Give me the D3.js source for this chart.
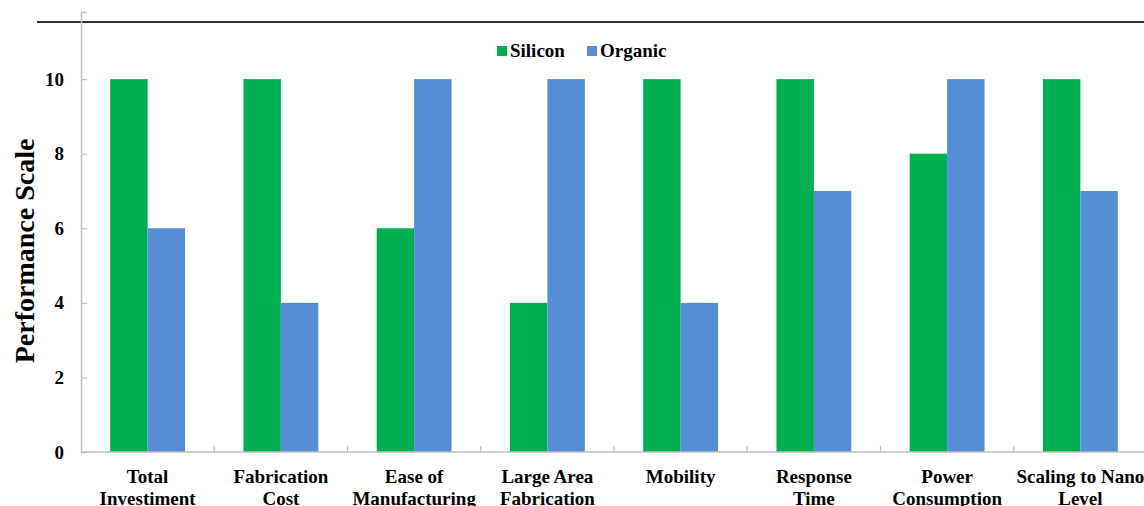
<!DOCTYPE html>
<html>
<head>
<meta charset="utf-8">
<script src="https://cdn.jsdelivr.net/npm/d3@7"></script>
<style>
  html, body { margin: 0; padding: 0; background: #fff; }
  svg { display: block; }
</style>
</head>
<body>
<svg id="chart" width="1144" height="506"></svg>
<script>
// Performance comparison of silicon vs organic electronics
const categories = [
  ["Total", "Investiment"],
  ["Fabrication", "Cost"],
  ["Ease of", "Manufacturing"],
  ["Large Area", "Fabrication"],
  ["Mobility"],
  ["Response", "Time"],
  ["Power", "Consumption"],
  ["Scaling to Nano", "Level"]
];
const seriesNames = ["Silicon", "Organic"];
const silicon = [10, 10, 6, 4, 10, 10, 8, 10];
const organic = [6, 4, 10, 10, 4, 7, 10, 7];
const yTicks = [0, 2, 4, 6, 8, 10];
const colors = ["#00B050", "#558ED5"];

const FONT = "'Liberation Serif', 'Times New Roman', Times, 'DejaVu Serif', serif";

const svg = d3.select("#chart")
  .attr("font-family", FONT)
  .attr("font-weight", "bold");
const plotLeft = 81, plotRight = 1147, plotBottom = 452, plotTop = 12;

const keys = categories.map((c, i) => i);
const x = d3.scaleBand().domain(keys).range([plotLeft, plotRight]).paddingInner(0).paddingOuter(0);
const xInner = d3.scaleBand().domain(seriesNames).range([0, x.bandwidth()]).paddingInner(0).paddingOuter(0.78);
const y = d3.scaleLinear().domain([0, 11.8]).range([plotBottom, plotTop]);

// top rule
svg.append("line")
  .attr("x1", 37).attr("x2", 1144).attr("y1", 22).attr("y2", 22)
  .attr("stroke", "#333").attr("stroke-width", 2.2);

// bars
const data = keys.map(i => ({ i, values: [silicon[i], organic[i]] }));
const groups = svg.append("g").selectAll("g").data(data).join("g")
  .attr("transform", d => `translate(${x(d.i)},0)`);
groups.selectAll("rect")
  .data(d => d.values.map((v, s) => ({ v, s })))
  .join("rect")
  .attr("x", d => xInner(seriesNames[d.s]))
  .attr("width", xInner.bandwidth())
  .attr("y", d => y(d.v))
  .attr("height", d => y(0) - y(d.v))
  .attr("fill", d => colors[d.s]);

// y axis (ticks drawn inside the plot)
const yAxis = d3.axisLeft(y).tickValues(yTicks).tickSize(-6).tickPadding(17).tickFormat(d3.format("d"));
const gy = svg.append("g").attr("transform", `translate(${plotLeft},0)`).call(yAxis)
  .attr("font-family", FONT).attr("font-size", 19);
gy.select(".domain").attr("stroke", "#bfbfbf").attr("stroke-width", 1.5);
gy.selectAll(".tick line").attr("stroke", "#bfbfbf").attr("stroke-width", 1.2);
gy.selectAll(".tick text").attr("fill", "#000");

// x axis
const xEdges = d3.range(categories.length + 1).map(i => plotLeft + i * x.bandwidth());
svg.append("line")
  .attr("x1", plotLeft).attr("x2", 1144).attr("y1", plotBottom).attr("y2", plotBottom)
  .attr("stroke", "#bfbfbf").attr("stroke-width", 1.5);
svg.append("g").selectAll("line").data(xEdges.slice(1)).join("line")
  .attr("x1", d => d).attr("x2", d => d)
  .attr("y1", plotBottom).attr("y2", plotBottom - 6)
  .attr("stroke", "#bfbfbf").attr("stroke-width", 1.2);

// category labels
const lbl = svg.append("g").selectAll("text").data(data).join("text")
  .attr("text-anchor", "middle")
  .attr("font-size", 19)
  .attr("fill", "#000")
  .attr("transform", d => `translate(${x(d.i) + x.bandwidth() / 2},483)`);
lbl.selectAll("tspan").data(d => categories[d.i]).join("tspan")
  .attr("x", 0).attr("dy", (d, j) => j === 0 ? 0 : 22)
  .text(d => d);

// y axis title
svg.append("text")
  .attr("transform", "translate(34,251) rotate(-90)")
  .attr("text-anchor", "middle")
  .attr("font-size", 28)
  .attr("fill", "#000")
  .text("Performance Scale");

// legend
const legendX = [497, 587];
const leg = svg.append("g").selectAll("g").data(seriesNames).join("g")
  .attr("transform", (d, i) => `translate(${legendX[i]},46)`);
leg.append("rect").attr("width", 10).attr("height", 10).attr("fill", (d, i) => colors[i]);
leg.append("text").attr("x", 13).attr("y", 11).attr("font-size", 19).attr("fill", "#000").text(d => d);
</script>
</body>
</html>
